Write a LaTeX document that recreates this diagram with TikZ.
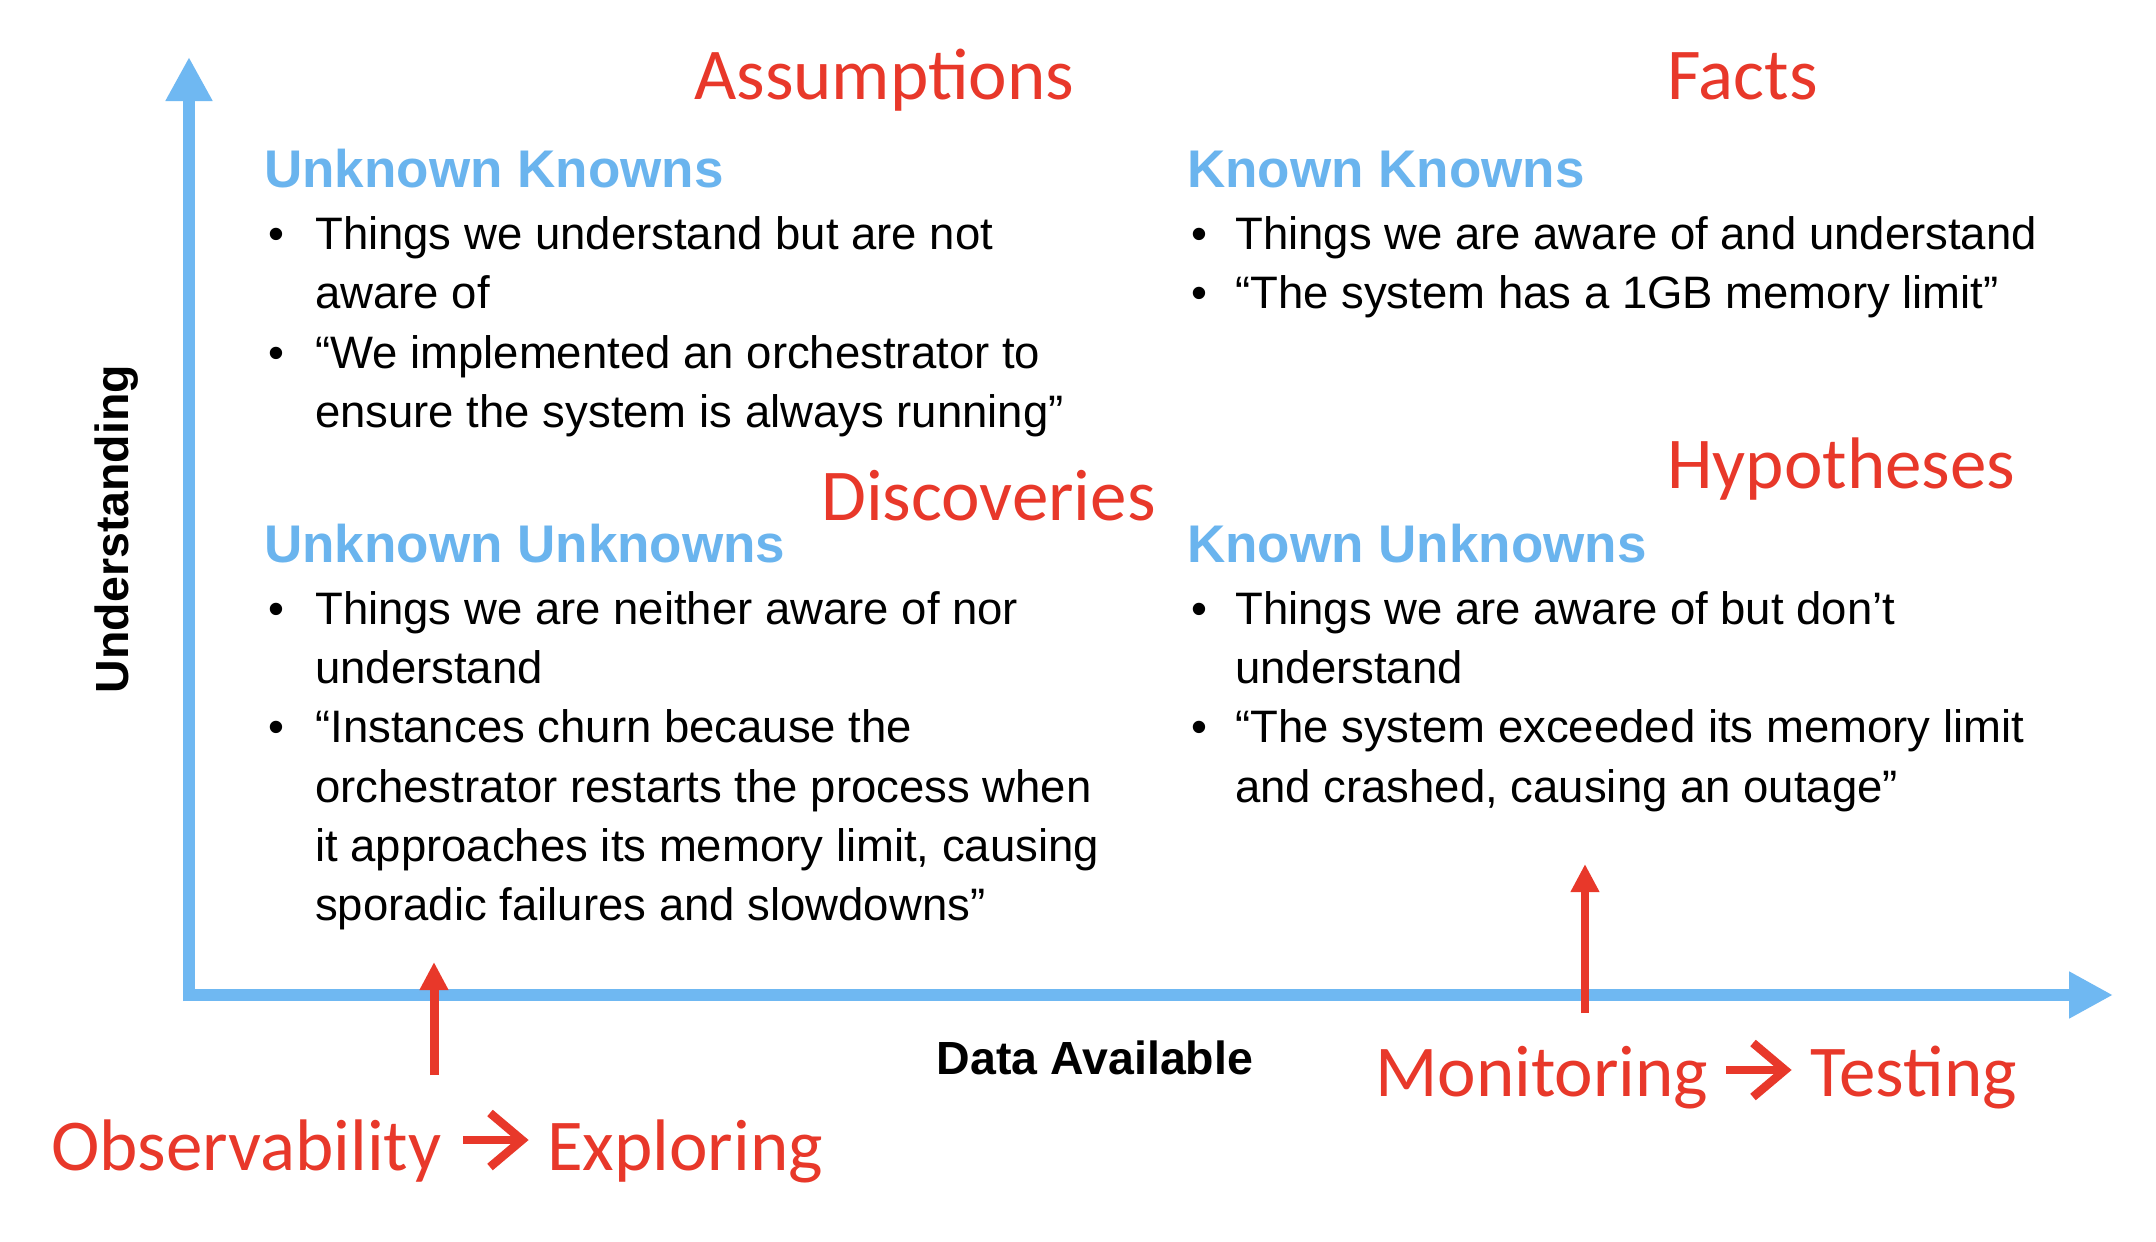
\documentclass[tikz,border=0pt]{standalone}
\usepackage{fontspec}
\usetikzlibrary{arrows.meta,calc}
\newfontfamily\bodyfam{Liberation Sans}
\newfontfamily\calfam{Carlito}
\newcommand\bodyf{\bodyfam\fontsize{45.5}{59}\selectfont}
\newcommand\headf{\bodyfam\bfseries\fontsize{53}{60}\selectfont}
\newcommand\redf{\calfam\fontsize{73}{80}\selectfont}
\newcommand\axf{\bodyfam\bfseries\fontsize{46.5}{52}\selectfont}
\definecolor{axisblue}{RGB}{111,184,242}
\definecolor{headblue}{RGB}{106,180,238}
\definecolor{redc}{RGB}{232,56,42}
\tikzset{
  body/.style={anchor=base west, inner sep=0pt, font=\bodyf, text=black},
  bul/.style={anchor=base, inner sep=0pt, font=\bodyf, text=black},
  head/.style={anchor=base west, inner sep=0pt, font=\headf, text=headblue},
  redlab/.style={anchor=base west, inner sep=0pt, font=\redf, text=redc},
  axlab/.style={inner sep=0pt, font=\axf, text=black},
  axisline/.style={draw=axisblue, line width=12pt, -{Triangle[width=44pt,length=44pt]}},
  redarrow/.style={draw=redc, line width=9pt, -{Triangle[width=27pt,length=28pt]}},
  chevline/.style={draw=redc, line width=8.5pt, line join=miter, line cap=butt},
}
\begin{document}
\begin{tikzpicture}[x=1pt,y=-1pt]
\useasboundingbox[fill=white] (0,0) rectangle (2156,1242);

% axes
\coordinate (origin) at (189,1001);
\coordinate (ytip) at (189,57);
\coordinate (xorig) at (183,995);
\coordinate (xtip) at (2113,995);
\draw[axisline] (origin) -- (ytip);
\draw[axisline] (xorig) -- (xtip);

\node[axlab, rotate=90] (ylab) at (117,529) {Understanding};
\node[axlab] (xlab) at (1095,1058) {Data Available};

% red arrows
\coordinate (la0) at (434,1075);
\coordinate (la1) at (434,962);
\coordinate (ra0) at (1585,1013);
\coordinate (ra1) at (1585,864);
\draw[redarrow] (la0) -- (la1);
\draw[redarrow, line width=8pt] (ra0) -- (ra1);

% red labels
\node[redlab] (assum) at (694,99) {Assumptions};
\node[redlab] (facts) at (1667,99) {Facts};
\node[redlab] (hypo) at (1667,488) {Hypotheses};
\node[redlab] (disc) at (821,520) {Discoveries};
\node[redlab] (mon) at (1375,1096) {Monitoring};
\node[redlab] (test) at (1810,1096) {Testing};
\node[redlab] (obs) at (51,1170) {Observability};
\node[redlab] (expl) at (547,1170) {Exploring};

% chevron arrows between words
\coordinate (oa0) at (463,1140);
\coordinate (oa1) at (520,1140);
\draw[chevline] (oa0) -- (oa1);
\draw[chevline] ($(oa1)+(-30,-27)$) -- ($(oa1)+(2,0)$) -- ($(oa1)+(-30,27)$);
\coordinate (ma0) at (1726,1070);
\coordinate (ma1) at (1783,1070);
\draw[chevline] (ma0) -- (ma1);
\draw[chevline] ($(ma1)+(-30,-27)$) -- ($(ma1)+(2,0)$) -- ($(ma1)+(-30,27)$);

% headings
\node[head] (hUK) at (264,187) {Unknown Knowns};
\node[head] (hKK) at (1187,187) {Known Knowns};
\node[head] (hUU) at (264,562) {Unknown Unknowns};
\node[head] (hKU) at (1187,562) {Known Unknowns};

% Unknown Knowns
\node[bul] (b1) at (276,249) {•};
\node[body] (t1) at (315,249) {Things we understand but are not};
\node[body] (t2) at (315,308) {aware of};
\node[bul] (b2) at (276,368) {•};
\node[body] (t3) at (315,368) {“We implemented an orchestrator to};
\node[body] (t4) at (315,427) {ensure the system is always running”};

% Unknown Unknowns
\node[bul] (b3) at (276,624) {•};
\node[body] (u1) at (315,624) {Things we are neither aware of nor};
\node[body] (u2) at (315,683) {understand};
\node[bul] (b4) at (276,742) {•};
\node[body] (u3) at (315,742) {“Instances churn because the};
\node[body] (u4) at (315,802) {orchestrator restarts the process when};
\node[body] (u5) at (315,861) {it approaches its memory limit, causing};
\node[body] (u6) at (315,920) {sporadic failures and slowdowns”};

% Known Knowns
\node[bul] (b5) at (1199,249) {•};
\node[body] (k1) at (1235,249) {Things we are aware of and understand};
\node[bul] (b6) at (1199,308) {•};
\node[body] (k2) at (1235,308) {“The system has a 1GB memory limit”};

% Known Unknowns
\node[bul] (b7) at (1199,624) {•};
\node[body] (v1) at (1235,624) {Things we are aware of but don’t};
\node[body] (v2) at (1235,683) {understand};
\node[bul] (b8) at (1199,742) {•};
\node[body] (v3) at (1235,742) {“The system exceeded its memory limit};
\node[body] (v4) at (1235,802) {and crashed, causing an outage”};
\end{tikzpicture}
\end{document}
